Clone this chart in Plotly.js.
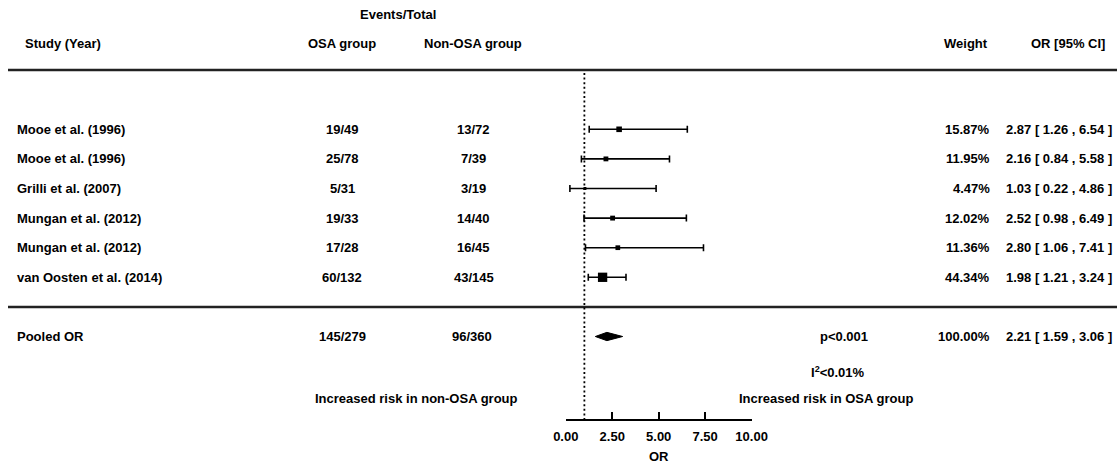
<!DOCTYPE html>
<html><head><meta charset="utf-8">
<script src="https://cdn.plot.ly/plotly-3.0.1.min.js"></script>
<style>html,body{margin:0;padding:0;background:#fff}#chart{width:1117px;height:473px}</style>
</head><body><div id="chart"></div>
<script>
// ---- data ----
const studies = ['Mooe et al. (1996)', 'Mooe et al. (1996)', 'Grilli et al. (2007)', 'Mungan et al. (2012)', 'Mungan et al. (2012)', 'van Oosten et al. (2014)'];
const osaEvents = ['19/49', '25/78', '5/31', '19/33', '17/28', '60/132'];
const nonOsaEvents = ['13/72', '7/39', '3/19', '14/40', '16/45', '43/145'];
const weights = [15.87, 11.95, 4.47, 12.02, 11.36, 44.34];
const orValues = [2.87, 2.16, 1.03, 2.52, 2.80, 1.98];
const ciLow = [1.26, 0.84, 0.22, 0.98, 1.06, 1.21];
const ciHigh = [6.54, 5.58, 4.86, 6.49, 7.41, 3.24];
const pooledLabel = 'Pooled OR';
const pooledOsa = '145/279';
const pooledNonOsa = '96/360';
const pooledWeight = 100.00;
const pooledOR = 2.21;
const pooledLow = 1.59;
const pooledHigh = 3.06;
const pValueText = 'p&lt;0.001';
const i2Text = 'I<sup>2</sup>&lt;0.01%';
const nullValue = 1;
const tickValues = [0, 2.5, 5, 7.5, 10];
const headers = {study: 'Study (Year)', events: 'Events/Total', osa: 'OSA group', nonOsa: 'Non-OSA group', weight: 'Weight', ci: 'OR [95% CI]'};
const favourLeft = 'Increased risk in non-OSA group';
const favourRight = 'Increased risk in OSA group';
const axisTitle = 'OR';

// ---- layout helpers ----
const W = 1117, H = 473;
const ROW0 = 129.3, ROWH = 29.6;            // pixel position of first row and row spacing
const toRow = p => (p - ROW0) / ROWH;        // pixel y -> row units
const FONT = {family: '"Liberation Sans", Arial, Helvetica, sans-serif', size: 13, color: '#000', weight: 'bold'};
const rowIdx = studies.map((_, i) => i);
const pooledRow = studies.length + 1;
const fmtCI = (o, l, h) => `${o.toFixed(2)} [ ${l.toFixed(2)} , ${h.toFixed(2)} ]`;

function ann(text, xpx, y, anchor, yref) {
  return {text: text, x: xpx / W, xref: 'paper', y: y, yref: yref || 'y', xanchor: anchor,
          yanchor: 'middle', showarrow: false, font: FONT, borderpad: 0};
}

const annotations = [];
// headers
annotations.push(ann(headers.events, 398, toRow(14), 'center'));
annotations.push(ann(headers.study, 24, toRow(43), 'left'));
annotations.push(ann(headers.osa, 342, toRow(43), 'center'));
annotations.push(ann(headers.nonOsa, 473, toRow(43), 'center'));
annotations.push(ann(headers.weight, 989, toRow(43), 'right'));
annotations.push(ann(headers.ci, 1068, toRow(43), 'center'));
// study rows
rowIdx.forEach(i => {
  annotations.push(ann(studies[i], 16, i, 'left'));
  annotations.push(ann(osaEvents[i], 342, i, 'center'));
  annotations.push(ann(nonOsaEvents[i], 474, i, 'center'));
  annotations.push(ann(weights[i].toFixed(2) + '%', 991, i, 'right'));
  annotations.push(ann(fmtCI(orValues[i], ciLow[i], ciHigh[i]), 1113, i, 'right'));
});
// pooled row
annotations.push(ann(pooledLabel, 16, pooledRow, 'left'));
annotations.push(ann(pooledOsa, 342, pooledRow, 'center'));
annotations.push(ann(pooledNonOsa, 472, pooledRow, 'center'));
annotations.push(ann(pValueText, 844, pooledRow, 'center'));
annotations.push(ann(pooledWeight.toFixed(2) + '%', 991, pooledRow, 'right'));
annotations.push(ann(fmtCI(pooledOR, pooledLow, pooledHigh), 1113, pooledRow, 'right'));
annotations.push(ann(i2Text, 838, toRow(371.7), 'center'));
annotations.push(ann(favourLeft, 416, toRow(398.3), 'center'));
annotations.push(ann(favourRight, 826, toRow(398.3), 'center'));

const axisY = 419;
const shapes = [
  {type: 'line', xref: 'paper', yref: 'y', x0: 8 / W, x1: 1, y0: toRow(70), y1: toRow(70), line: {color: '#222', width: 2.5}},
  {type: 'line', xref: 'paper', yref: 'y', x0: 8 / W, x1: 1, y0: toRow(307), y1: toRow(307), line: {color: '#222', width: 2.5}},
  {type: 'line', xref: 'x', yref: 'y', x0: nullValue, x1: nullValue, y0: toRow(73), y1: toRow(axisY), line: {color: '#000', width: 1.8, dash: '2px,2.6px'}}
];

const studyTrace = {
  type: 'scatter', mode: 'markers', x: orValues, y: rowIdx,
  marker: {symbol: 'square', color: '#000', opacity: 1, size: weights.map(w => 1.4 * Math.sqrt(w)), line: {width: 0}},
  error_x: {type: 'data', symmetric: false,
            array: orValues.map((o, i) => ciHigh[i] - o),
            arrayminus: orValues.map((o, i) => o - ciLow[i]),
            color: '#000', thickness: 1.6, width: 3.5},
  hoverinfo: 'skip', showlegend: false, cliponaxis: false
};
const dh = 0.14;
const diamondTrace = {
  type: 'scatter', mode: 'lines', fill: 'toself', fillcolor: '#000',
  x: [pooledLow, pooledOR, pooledHigh, pooledOR, pooledLow],
  y: [pooledRow, pooledRow - dh, pooledRow, pooledRow + dh, pooledRow],
  line: {color: '#000', width: 1}, hoverinfo: 'skip', showlegend: false
};

const layout = {
  width: W, height: H, margin: {l: 0, r: 0, t: 0, b: 0},
  paper_bgcolor: '#fff', plot_bgcolor: '#fff', showlegend: false,
  font: FONT,
  xaxis: {domain: [565.8 / W, 751.6 / W], range: [0, 10], anchor: 'free', position: 1 - axisY / H,
          showline: true, linewidth: 1.6, linecolor: '#000', ticks: 'inside', ticklen: 7, tickwidth: 1.6,
          tickcolor: '#000', tickvals: tickValues, tickformat: '.2f', tickfont: FONT, ticklabelstandoff: 5,
          showgrid: false, zeroline: false, fixedrange: true,
          title: {text: axisTitle, font: FONT, standoff: 8}},
  yaxis: {domain: [0, 1], range: [toRow(H), toRow(0)], visible: false, showgrid: false, zeroline: false, fixedrange: true},
  annotations: annotations, shapes: shapes
};

Plotly.newPlot('chart', [studyTrace, diamondTrace], layout, {staticPlot: true, displayModeBar: false});
</script>
</body></html>
